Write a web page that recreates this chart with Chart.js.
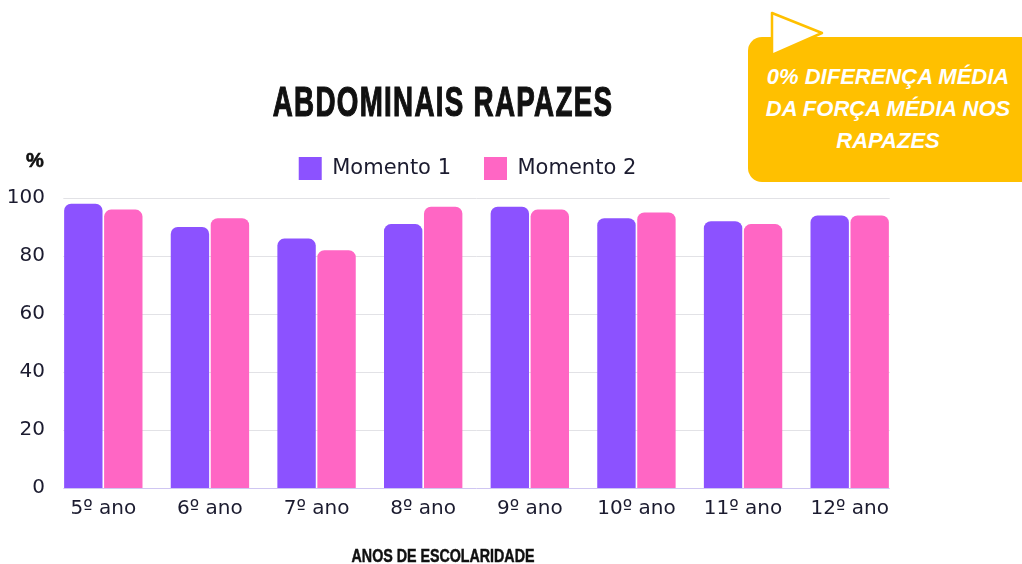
<!DOCTYPE html>
<html lang="pt">
<head>
    <meta charset="UTF-8">
    <title>Abdominais Rapazes</title>
    <script src="https://cdn.jsdelivr.net/npm/chart.js"></script>
    <style>
        body {
            margin: 0;
            padding: 0;
            background: #fff;
            width: 1022px;
            height: 564px;
            overflow: hidden;
            position: relative;
            font-family: 'DejaVu Sans', sans-serif;
        }
        #wrap {
            position: absolute;
            left: 0;
            top: 0;
            width: 1022px;
            height: 564px;
        }
        .title {
            position: absolute;
            left: 443px;
            top: 78px;
            transform: translateX(-50%) scaleX(0.66);
            font-family: 'Liberation Sans', sans-serif;
            font-weight: bold;
            font-size: 42px;
            letter-spacing: 2px;
            color: #111;
            white-space: nowrap;
            -webkit-text-stroke: 1.2px #111;
        }
        .unit {
            position: absolute;
            left: 26px;
            top: 149px;
            font-family: 'Liberation Sans', sans-serif;
            font-weight: bold;
            font-size: 20px;
            color: #111;
            -webkit-text-stroke: 0.6px #111;
        }
        .xtitle {
            position: absolute;
            left: 443px;
            top: 545px;
            transform: translateX(-50%) scaleX(0.75);
            font-family: 'Liberation Sans', sans-serif;
            font-weight: bold;
            font-size: 19px;
            color: #111;
            white-space: nowrap;
            -webkit-text-stroke: 0.5px #111;
        }
        .callout {
            position: absolute;
            left: 748px;
            top: 37px;
            width: 300px;
            height: 145px;
            background: #ffc000;
            border-radius: 14px;
        }
        .callout-text {
            position: absolute;
            left: 756px;
            top: 61px;
            width: 264px;
            text-align: center;
            font-family: 'Liberation Sans', sans-serif;
            font-weight: bold;
            font-style: italic;
            font-size: 22px;
            line-height: 32px;
            color: #fff;
        }
        svg.arrow {
            position: absolute;
            left: 765px;
            top: 8px;
        }
    </style>
</head>
<body>
<div id="wrap"><canvas id="chart" width="1022" height="564"></canvas></div>
<div class="title">ABDOMINAIS RAPAZES</div>
<div class="unit">%</div>
<div class="xtitle">ANOS DE ESCOLARIDADE</div>
<div class="callout"></div>
<svg class="arrow" width="70" height="55">
    <polygon points="7,5 7,47 57,25" fill="#fff" stroke="#ffc000" stroke-width="2.5" stroke-linejoin="round"/>
</svg>
<div class="callout-text">0% DIFERENÇA MÉDIA<br>DA FORÇA MÉDIA NOS<br>RAPAZES</div>
<script>
    const anos = ['5º ano', '6º ano', '7º ano', '8º ano', '9º ano', '10º ano', '11º ano', '12º ano'];
    const momento1 = [98, 90, 86, 91, 97, 93, 92, 94];
    const momento2 = [96, 93, 82, 97, 96, 95, 91, 94];
    const yTicks = [0, 20, 40, 60, 80, 100];

    const tickFont = { family: 'DejaVu Sans', size: 20 };
    const textColor = '#1b1b2f';

    // gridlines only under the bars, not across the whole category band
    const gridPlugin = {
        id: 'gridLines',
        afterLayout(chart) {
            // nudge the legend so it sits centred over the title, a bit higher
            const lg = chart.legend;
            lg.left += 16;
            lg.right += 16;
            lg.top -= 8;
            lg.bottom -= 8;
        },
        beforeDatasetsDraw(chart) {
            const ctx = chart.ctx;
            const y = chart.scales.y;
            const area = chart.chartArea;
            const inset = (area.right - area.left) / anos.length * 0.125;
            const x0 = area.left + inset;
            const x1 = area.right - inset;
            ctx.save();
            ctx.lineWidth = 1;
            yTicks.forEach(v => {
                const py = Math.round(y.getPixelForValue(v)) + 0.5;
                ctx.strokeStyle = v === 0 ? '#cfc6f2' : '#e2e2e6';
                ctx.beginPath();
                ctx.moveTo(x0, py);
                ctx.lineTo(x1, py);
                ctx.stroke();
            });
            ctx.restore();
        }
    };

    new Chart(document.getElementById('chart').getContext('2d'), {
        type: 'bar',
        data: {
            labels: anos,
            datasets: [{
                label: 'Momento 1',
                data: momento1,
                backgroundColor: '#8c52ff',
                borderRadius: { topLeft: 7, topRight: 7 },
                borderSkipped: 'bottom'
            }, {
                label: 'Momento 2',
                data: momento2,
                backgroundColor: '#ff66c4',
                borderRadius: { topLeft: 7, topRight: 7 },
                borderSkipped: 'bottom'
            }]
        },
        options: {
            responsive: false,
            animation: false,
            devicePixelRatio: 1,
            categoryPercentage: 0.75,
            barPercentage: 0.96,
            layout: {
                padding: { left: 0, right: 119, top: 132, bottom: 0 }
            },
            plugins: {
                legend: {
                    position: 'top',
                    labels: {
                        boxWidth: 23,
                        boxHeight: 23,
                        padding: 33,
                        color: textColor,
                        font: { family: 'DejaVu Sans', size: 21 }
                    }
                },
                tooltip: { enabled: false }
            },
            scales: {
                x: {
                    grid: { display: false },
                    border: { display: false },
                    ticks: {
                        color: textColor,
                        padding: 1,
                        font: tickFont
                    },
                    afterFit: scale => { scale.height = 76; }
                },
                y: {
                    min: 0,
                    max: 100,
                    grid: { display: false, drawTicks: false },
                    border: { display: false },
                    ticks: {
                        stepSize: 20,
                        color: textColor,
                        padding: 5,
                        font: tickFont
                    },
                    afterFit: scale => { scale.width = 50; }
                }
            }
        },
        plugins: [gridPlugin]
    });
</script>
</body>
</html>
